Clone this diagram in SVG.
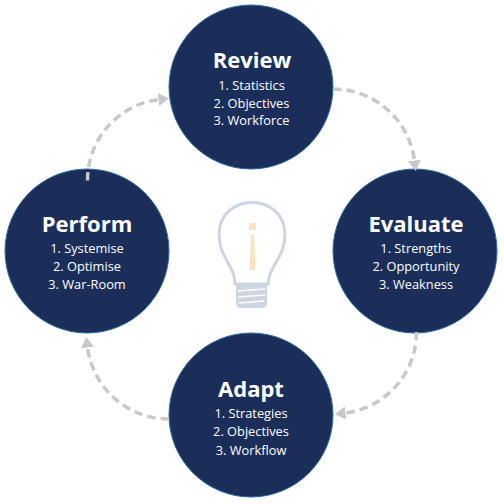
<svg xmlns="http://www.w3.org/2000/svg" width="504" height="504" viewBox="0 0 504 504">
<style>
.c{fill:#1b2e5a;stroke:#2e6ca4;stroke-width:1}
text{font-family:"Open Sans","Noto Sans",sans-serif;fill:#fff;text-anchor:middle}
.t{font-size:22px;font-weight:700}
.l{font-size:12.8px}
.a{fill:none;stroke:#c8c8c8;stroke-width:3.5;stroke-dasharray:8.500 5;marker-end:url(#head)}
</style>
<defs><marker id="head" markerUnits="userSpaceOnUse" markerWidth="11" markerHeight="14" refX="0.500" refY="7" orient="auto"><path d="M0 0.500L10.500 7L0 13.500Z" fill="#c8c8c8"/></marker></defs>
<rect width="504" height="504" fill="#fff"/>
<g id="review"><circle class="c" cx="251" cy="87" r="82"/><text class="t" x="252" y="68">Review</text><text class="l" x="251.500" y="90">1. Statistics</text><text class="l" x="251.500" y="108">2. Objectives</text><text class="l" x="251.500" y="125">3. Workforce</text></g>
<g id="evaluate"><circle class="c" cx="415" cy="251" r="82"/><text class="t" x="416" y="232">Evaluate</text><text class="l" x="416" y="253">1. Strengths</text><text class="l" x="416" y="271">2. Opportunity</text><text class="l" x="416" y="289">3. Weakness</text></g>
<g id="adapt"><circle class="c" cx="251" cy="415" r="82"/><text class="t" x="251" y="397">Adapt</text><text class="l" x="251" y="418">1. Strategies</text><text class="l" x="251" y="436">2. Objectives</text><text class="l" x="251" y="455">3. Workflow</text></g>
<g id="perform"><circle class="c" cx="87" cy="251" r="82"/><text class="t" x="87" y="232">Perform</text><text class="l" x="87" y="253">1. Systemise</text><text class="l" x="87" y="271">2. Optimise</text><text class="l" x="87" y="289">3. War-Room</text></g>
<g id="connectors">
<path class="a" d="M333 89A82 82 0 0 1 414.500 161"/>
<path class="a" d="M416.500 332A81.500 81.500 0 0 1 345 413"/>
<path class="a" d="M169 419A82 82 0 0 1 87.500 347"/>
<path class="a" d="M87.500 180.500A81.500 81.500 0 0 1 159 99.500"/>
</g>
<g id="bulb">
<path d="M235 284C235 265 219 258 219 234C219 215 234 202.500 252 202.500C270 202.500 285 215 285 234C285 258 269 265 268 284Z" fill="#fff" stroke="#cdd5e3" stroke-width="3"/>
<path d="M236 284H267V303Q267 308 262 308H241Q236 308 236 303Z" fill="#cdd5e3"/>
<path d="M238 291L265 289M238 297L265 295M239 303L264 301" stroke="#fff" stroke-width="1.700" fill="none"/>
<rect x="249" y="223" width="7" height="7" fill="#fde3bd"/>
<path d="M251 235H254L255.500 270H249.500Z" fill="#fde3bd"/>
</g>
</svg>
